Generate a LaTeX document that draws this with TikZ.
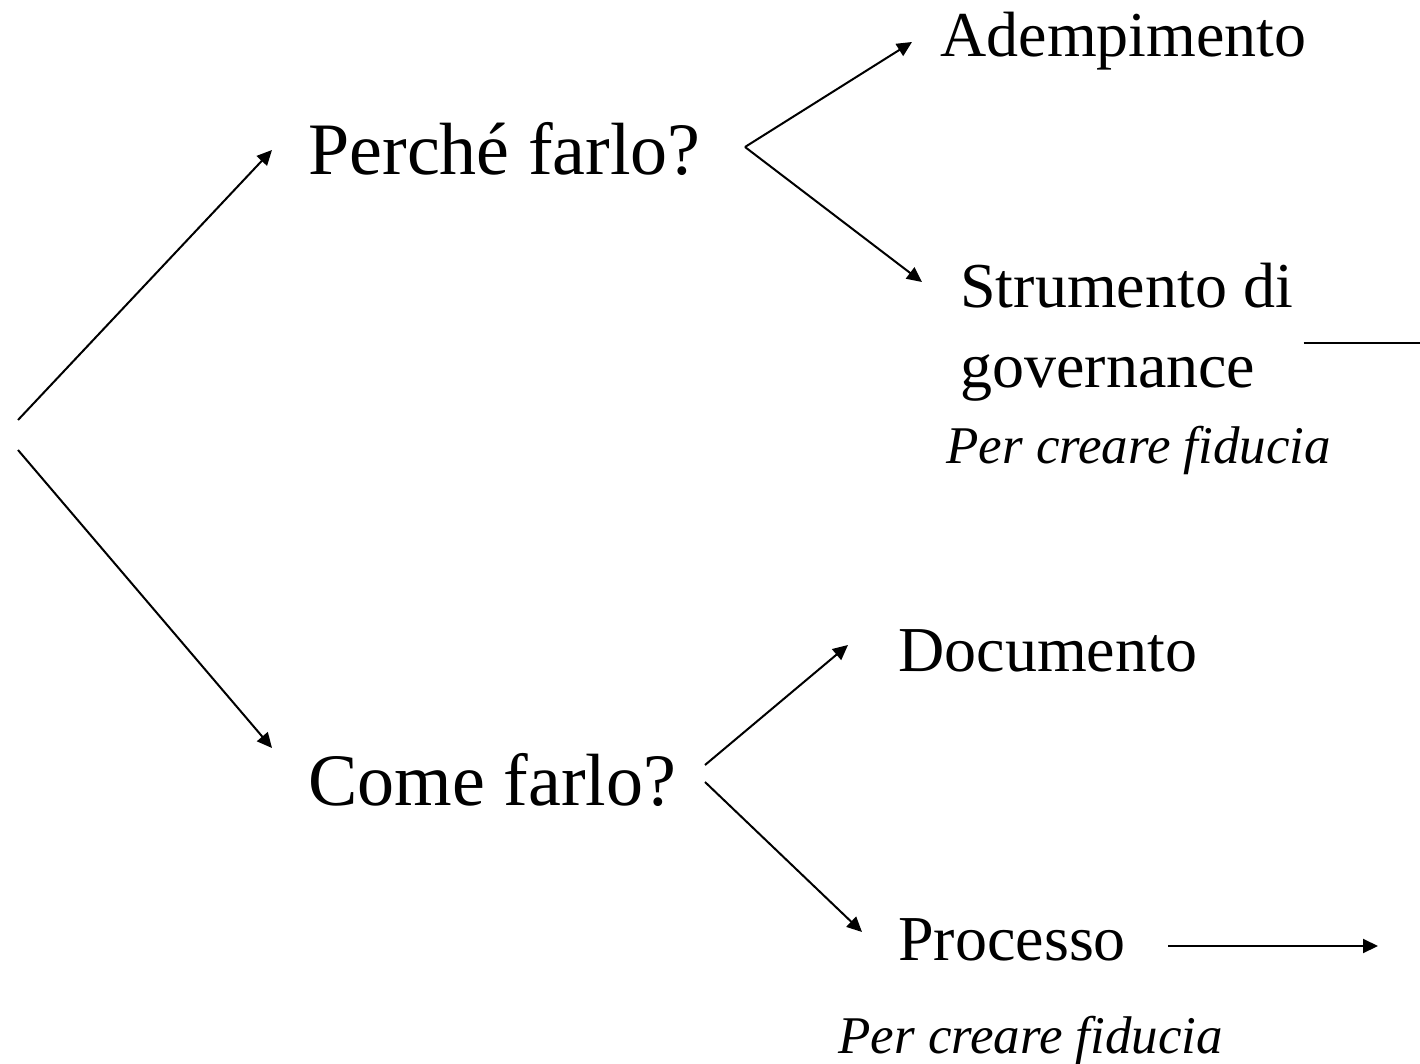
\documentclass[tikz,border=0pt]{standalone}
\usepackage{fontspec}
\setmainfont{Liberation Serif}
\usepackage{tikz}
\usetikzlibrary{arrows.meta}

\begin{document}
\begin{tikzpicture}
[
x=0.5pt, y=-0.5pt,
text-big/.style={inner sep=0pt, anchor=base west, font=\fontsize{37}{44}\selectfont},
text-mid/.style={inner sep=0pt, anchor=base west, font=\fontsize{32}{38}\selectfont},
text-fid/.style={inner sep=0pt, anchor=base west, font=\fontsize{26.5}{31}\selectfont\itshape},
line-a/.style={line width=1pt},
arrow-a/.style={line-a, -{Triangle[length=7.5pt, width=7pt]}}
]
\useasboundingbox (0,0) rectangle (1420,1064);
% questions
\node (perche)  [text-big] at (308,175)  {Perché farlo?};
\node (come)    [text-big] at (308,805)  {Come farlo?};
% answers
\node (ademp)   [text-mid] at (940,57)   {Adempimento};
\node (strum)   [text-mid] at (960,308)  {Strumento di};
\node (gov)     [text-mid] at (960,387)  {governance};
\node (fid-1)   [text-fid] at (946,463)  {Per creare fiducia};
\node (docum)   [text-mid] at (898,671)  {Documento};
\node (proc)    [text-mid] at (898,960)  {Processo};
\node (fid-2)   [text-fid] at (838,1053) {Per creare fiducia};
% branch points
\coordinate (root-up) at (18,420);
\coordinate (root-dn) at (18,450);
\coordinate (fork-1)  at (745,147);
\coordinate (fork-2a) at (705,765);
\coordinate (fork-2b) at (705,782);
\coordinate (gov-end)  at (1420,343);
\coordinate (proc-end) at (1378,946);
% connectors
\draw [arrow-a] (root-up) -- ([shift={(-18pt,12.5pt)}]perche.base west);
\draw [arrow-a] (root-dn) -- ([shift={(-18pt,28.5pt)}]come.base west);
\draw [arrow-a] (fork-1)  -- ([shift={(-14pt,7.5pt)}]ademp.base west);
\draw [arrow-a] (fork-1)  -- ([shift={(-19pt,13pt)}]strum.base west);
\draw [arrow-a] (fork-2a) -- ([shift={(-25pt,13pt)}]docum.base west);
\draw [arrow-a] (fork-2b) -- ([shift={(-18pt,14pt)}]proc.base west);
\draw [line-a]  ([shift={(24pt,22pt)}]gov.base east) -- (gov-end);
\draw [arrow-a] ([shift={(21pt,7pt)}]proc.base east) -- (proc-end);
\end{tikzpicture}
\end{document}
